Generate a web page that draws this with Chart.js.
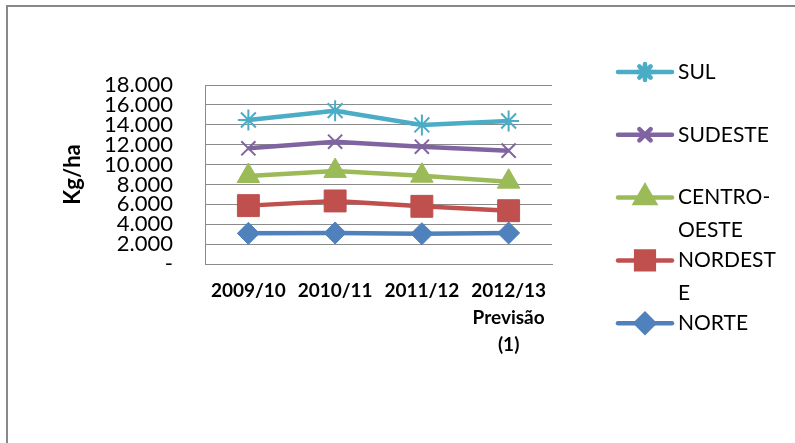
<!DOCTYPE html>
<html>
<head>
<meta charset="utf-8">
<script src="https://cdn.jsdelivr.net/npm/chart.js@4.4.1/dist/chart.umd.min.js"></script>
<style>
  html, body { margin: 0; padding: 0; background: #ffffff; }
  canvas { display: block; }
</style>
</head>
<body>
<canvas id="chart" width="795" height="443"></canvas>
<script>
// Safras (crop years)
const safras = ['2009/10', '2010/11', '2011/12', ['2012/13', 'Previsão', '(1)']];

// Produtividade por região (kg/ha)
const sul         = [14480, 15420, 13980, 14380];
const sudeste     = [11630, 12300, 11800, 11400];
const centroOeste = [8850, 9350, 8880, 8280];
const nordeste    = [5870, 6340, 5800, 5360];
const norte       = [3080, 3120, 3050, 3120];

// Legend text, already broken the way it wraps in the side column
const legendText = [['SUL'], ['SUDESTE'], ['CENTRO-', 'OESTE'], ['NORDEST', 'E'], ['NORTE']];

// Y axis
const yMin = 0, yMax = 18000, yStep = 2000;

const FONT = 'Lato, "Open Sans", sans-serif';
const GRID = '#8a8a8a';

function fmtKg(v) {
  if (v === 0) return '-';
  return String(v).replace(/\B(?=(\d{3})+(?!\d))/g, '.');
}

const series = [
  { label: 'SUL',          data: sul,         color: '#4BACC6', style: 'star',     r: 10.5, bw: 2, lr: 8,    lbw: 1 },
  { label: 'SUDESTE',      data: sudeste,     color: '#8064A2', style: 'crossRot', r: 10,   bw: 2, lr: 8,    lbw: 1 },
  { label: 'CENTRO-OESTE', data: centroOeste, color: '#9BBB59', style: 'triangle', r: 13,   bw: 1, lr: 11,   lbw: 1 },
  { label: 'NORDESTE',     data: nordeste,    color: '#C0504D', style: 'rect',     r: 15.5, bw: 1, lr: 12.5, lbw: 1 },
  { label: 'NORTE',        data: norte,       color: '#4F81BD', style: 'rectRot',  r: 11,   bw: 1, lr: 9,    lbw: 1 }
];

// Outer frame of the chart object
const framePlugin = {
  id: 'frame',
  beforeDraw(chart) {
    const ctx = chart.ctx;
    ctx.save();
    ctx.fillStyle = '#ffffff';
    ctx.fillRect(0, 0, chart.width, chart.height);
    ctx.strokeStyle = '#888888';
    ctx.lineWidth = 2;
    ctx.beginPath();
    ctx.moveTo(7, chart.height);
    ctx.lineTo(7, 6);
    ctx.lineTo(chart.width, 6);
    ctx.stroke();
    ctx.restore();
  }
};

// Side legend with wrapped labels
const sideLegend = {
  id: 'sideLegend',
  afterDraw(chart) {
    const ctx = chart.ctx;
    const x0 = 618, x1 = 672, tx = 678;
    const top = 72, gap = 62.8, lineGap = 33;
    ctx.save();
    series.forEach((s, i) => {
      const y = top + i * gap;
      ctx.strokeStyle = s.color;
      ctx.lineWidth = 4.5;
      ctx.lineCap = 'round';
      ctx.beginPath();
      ctx.moveTo(x0, y);
      ctx.lineTo(x1, y);
      ctx.stroke();
      ctx.fillStyle = s.color;
      ctx.strokeStyle = s.color;
      Chart.helpers.drawPoint(ctx, {
        pointStyle: s.style, radius: s.lr, rotation: 0, borderWidth: s.lbw
      }, (x0 + x1) / 2, y);
      ctx.fillStyle = '#000000';
      ctx.font = '21px ' + FONT;
      ctx.textAlign = 'left';
      ctx.textBaseline = 'middle';
      legendText[i].forEach((t, k) => ctx.fillText(t, tx, y + k * lineGap));
    });
    ctx.restore();
  }
};

new Chart(document.getElementById('chart'), {
  type: 'line',
  data: {
    labels: safras,
    datasets: series.map(s => ({
      label: s.label,
      data: s.data,
      borderColor: s.color,
      backgroundColor: s.color,
      borderWidth: 4.5,
      pointStyle: s.style,
      pointRadius: s.r,
      pointBorderWidth: s.bw,
      pointBackgroundColor: s.color,
      pointBorderColor: s.color,
      tension: 0,
      fill: false
    }))
  },
  options: {
    responsive: false,
    animation: false,
    devicePixelRatio: 1,
    layout: { padding: { left: 60, top: 85, right: 243, bottom: 0 } },
    plugins: {
      legend: { display: false },
      tooltip: { enabled: false }
    },
    scales: {
      x: {
        offset: true,
        grid: { display: false, drawTicks: false },
        border: { display: true, color: GRID, width: 1 },
        ticks: {
          autoSkip: false,
          maxRotation: 0,
          minRotation: 0,
          padding: 14,
          color: '#000000',
          font: { family: FONT, size: 19, weight: 'bold', lineHeight: 1.4 }
        },
        afterFit(scale) { scale.height = 179; }
      },
      y: {
        min: yMin,
        max: yMax,
        grid: { color: GRID, drawTicks: false, lineWidth: 1 },
        border: { display: true, color: GRID, width: 1 },
        ticks: {
          autoSkip: false,
          stepSize: yStep,
          padding: 32,
          color: '#000000',
          font: { family: FONT, size: 22, lineHeight: 0.9 },
          callback: v => fmtKg(v)
        },
        title: {
          display: true,
          text: 'Kg/ha',
          color: '#000000',
          padding: 0,
          font: { family: FONT, size: 22, weight: 'bold', lineHeight: 1.2 }
        },
        afterFit(scale) { scale.width = 145; }
      }
    }
  },
  plugins: [framePlugin, sideLegend]
});
</script>
</body>
</html>
